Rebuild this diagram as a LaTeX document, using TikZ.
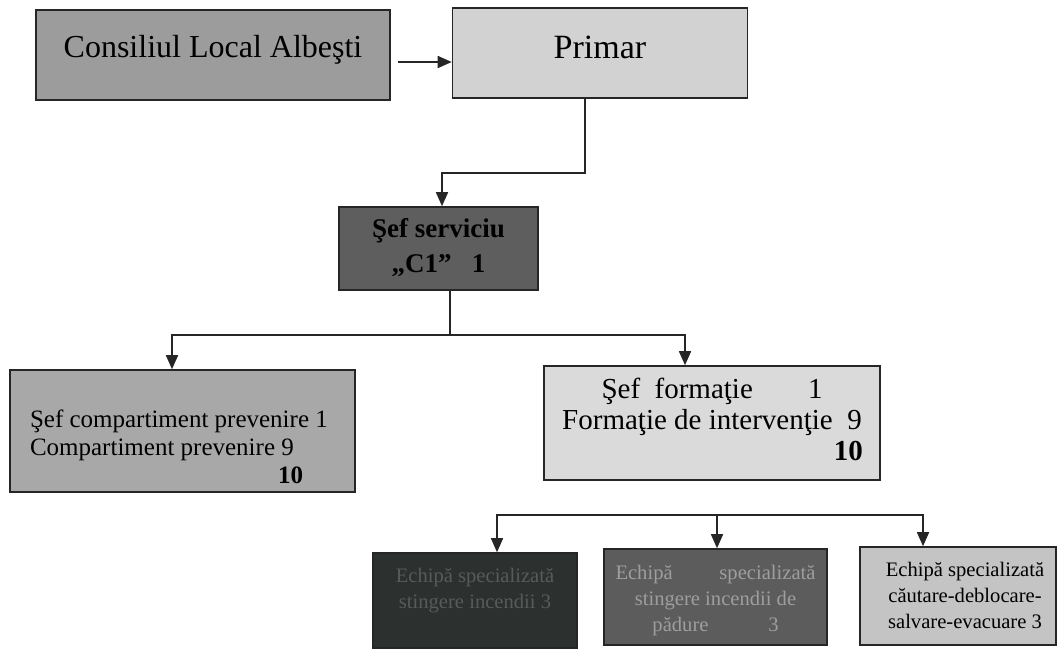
\documentclass[tikz,border=0pt]{standalone}
\usepackage{fontspec}
\setmainfont{Liberation Serif}
\usepackage{xcolor}
\usepackage{tikz}
\usetikzlibrary{positioning,calc,arrows.meta}

\definecolor{consgray}{HTML}{9C9C9C}
\definecolor{primgray}{HTML}{D2D2D2}
\definecolor{sefgray}{HTML}{5E5E5E}
\definecolor{compgray}{HTML}{A8A8A8}
\definecolor{formgray}{HTML}{DADADA}
\definecolor{echipaone}{HTML}{2C3130}
\definecolor{echipaonetext}{HTML}{575C5A}
\definecolor{echipatwo}{HTML}{5C5C5C}
\definecolor{echipatwotext}{HTML}{9E9E9E}
\definecolor{echipathree}{HTML}{C4C4C4}

\newcommand{\lifted}[2]{\raisebox{#1}[0pt][0pt]{#2}}

\begin{document}
\begin{tikzpicture}[
  x=0.5pt, y=-0.5pt,
  box/.style={rectangle, draw=black!85, line width=0.8pt, inner sep=0pt, anchor=center},
  arrow/.style={-{Triangle[width=6pt,length=7pt]}, line width=0.8pt, draw=black!85},
  link/.style={line width=0.8pt, draw=black!85}
]
\useasboundingbox[fill=white] (0,0) rectangle (1058,648);

% top row
\node[box, fill=consgray, minimum width=177pt, minimum height=45pt] (consiliu) at (213,55)
  {\fontsize{16}{19}\selectfont\lifted{-1.3pt}{Consiliul Local Albeşti}};
\node[box, fill=primgray, minimum width=147.5pt, minimum height=45pt] (primar) at (600,53)
  {\fontsize{17}{20}\selectfont\lifted{-2.6pt}{Primar}};

% service chief
\node[box, fill=sefgray, minimum width=99.5pt, minimum height=41.5pt] (sefserviciu) at (438.5,248.5)
  {\fontsize{13.5}{17.5}\selectfont\bfseries\lifted{-3.4pt}{\begin{tabular}{@{}c@{}}Şef serviciu\\„C1”\ \ \ 1\end{tabular}}};

% second level
\node[box, fill=compgray, minimum width=172.5pt, minimum height=61pt] (compartiment) at (182.5,431)
  {\fontsize{12.5}{14}\selectfont\lifted{-12.6pt}{\makebox[152.5pt][l]{\begin{tabular}{@{}l@{}}Şef compartiment prevenire 1\\Compartiment prevenire 9\\\hspace*{124pt}\textbf{10}\end{tabular}}}};
\node[box, fill=formgray, minimum width=168pt, minimum height=57pt] (formatie) at (712,423)
  {\fontsize{14.5}{15.5}\selectfont\lifted{-3.6pt}{\begin{tabular}{@{}c@{}}Şef\ \ formaţie\hspace{1.9em}1\\Formaţie de intervenţie\ \ 9\\\hspace*{9.4em}\textbf{10}\end{tabular}}};

% teams
\node[box, fill=echipaone, text=echipaonetext, minimum width=102pt, minimum height=47.5pt] (echipa1) at (475,600.5)
  {\fontsize{10.3}{13}\selectfont\lifted{2.7pt}{\begin{tabular}{@{}c@{}}Echipă specializată\\stingere incendii 3\end{tabular}}};
\node[box, fill=echipatwo, text=echipatwotext, minimum width=111.5pt, minimum height=48pt] (echipa2) at (715.5,597)
  {\fontsize{10.3}{13}\selectfont\lifted{-4.1pt}{\begin{tabular}{@{}c@{}}\makebox[100pt][s]{Echipă specializată}\\stingere incendii de\\pădure\hspace{2.9em}3\end{tabular}}};
\node[box, fill=echipathree, minimum width=98pt, minimum height=49pt] (echipa3) at (958,596)
  {\fontsize{10.3}{13}\selectfont\lifted{-3pt}{\hspace*{7pt}\begin{tabular}{@{}c@{}}Echipă specializată\\căutare-deblocare-\\salvare-evacuare 3\end{tabular}}};

% connectors
\coordinate (lvl1) at (0,62);
\draw[arrow, shorten <=3.5pt] (consiliu.east |- lvl1) -- (primar.west |- lvl1);

\coordinate (p1) at (585,173);
\coordinate (p2) at (442,173);
\draw[arrow] (p1 |- primar.south) -- (p1) -- (p2) -- (p2 |- sefserviciu.north);

\coordinate (s1) at (450,335);
\coordinate (s2) at (172,335);
\coordinate (s3) at (685,335);
\draw[link] (s1 |- sefserviciu.south) -- (s1);
\draw[arrow] (s1) -- (s2) -- (s2 |- compartiment.north);
\draw[arrow] (s1) -- (s3) -- (s3 |- formatie.north);

\coordinate (b1) at (497,515);
\coordinate (b2) at (717,515);
\coordinate (b3) at (923,515);
\draw[arrow] (b2) -- (b1) -- (b1 |- echipa1.north);
\draw[arrow] (b2) -- (b2 |- echipa2.north);
\draw[arrow] (b2) -- (b3) -- (b3 |- echipa3.north);
\end{tikzpicture}
\end{document}
